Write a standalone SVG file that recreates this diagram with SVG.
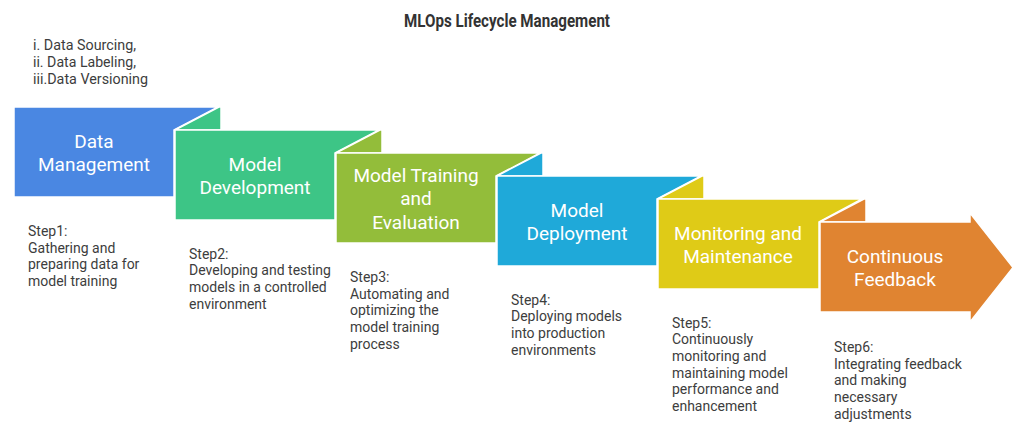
<svg xmlns="http://www.w3.org/2000/svg" width="1014" height="425" viewBox="0 0 1014 425">
<style>
.shp{stroke:#ffffff;stroke-width:1.5;stroke-linejoin:miter}
.lbl{font-family:Roboto,"Liberation Sans",sans-serif;font-size:19px;fill:#ffffff;text-anchor:middle}
.desc{font-family:Roboto,"Liberation Sans",sans-serif;font-size:14px;fill:#3d3d3d}
.title{font-family:Roboto,"Liberation Sans",sans-serif;font-size:17.5px;font-weight:bold;fill:#333333}
.c1{fill:#4A87E2}.c2{fill:#3DC586}.c3{fill:#93BD3A}.c4{fill:#1FA9D9}.c5{fill:#DFCB17}.c6{fill:#E08431}
</style>
<rect width="1014" height="425" fill="#ffffff"/>
<text class="title" x="404" y="27" textLength="206" lengthAdjust="spacingAndGlyphs">MLOps Lifecycle Management</text>
<g id="notes">
<text class="desc" x="33" y="50" textLength="103" lengthAdjust="spacingAndGlyphs">i. Data Sourcing,</text>
<text class="desc" x="33" y="67" textLength="103" lengthAdjust="spacingAndGlyphs">ii. Data Labeling,</text>
<text class="desc" x="33" y="84" textLength="115" lengthAdjust="spacingAndGlyphs">iii.Data Versioning</text>
</g>
<g id="connectors"></g>
<g id="step1">
<polygon class="shp c1" points="14,107 218,107 174,130 174,197 14,197"/>
<text class="lbl" x="94" y="147.5">Data</text>
<text class="lbl" x="94" y="171">Management</text>
<text class="desc" x="28" y="236"><tspan x="28">Step1:</tspan><tspan x="28" dy="16.7">Gathering and</tspan><tspan x="28" dy="16.7">preparing data for</tspan><tspan x="28" dy="16.7">model training</tspan></text>
</g>
<g id="step2">
<polygon class="shp c2" points="175,130 219,107 221,107 221,130"/>
<polygon class="shp c2" points="175,130 379,130 335,153 335,220 175,220"/>
<text class="lbl" x="255" y="170.5">Model</text>
<text class="lbl" x="255" y="194">Development</text>
<text class="desc" x="189" y="258.5"><tspan x="189">Step2:</tspan><tspan x="189" dy="16.7">Developing and testing</tspan><tspan x="189" dy="16.7">models in a controlled</tspan><tspan x="189" dy="16.7">environment</tspan></text>
</g>
<g id="step3">
<polygon class="shp c3" points="336,153 380,130 382,130 382,153"/>
<polygon class="shp c3" points="336,153 540,153 496,176 496,243 336,243"/>
<text class="lbl" x="416" y="181.5">Model Training</text>
<text class="lbl" x="416" y="205">and</text>
<text class="lbl" x="416" y="228.5">Evaluation</text>
<text class="desc" x="350" y="282"><tspan x="350">Step3:</tspan><tspan x="350" dy="16.7">Automating and</tspan><tspan x="350" dy="16.7">optimizing the</tspan><tspan x="350" dy="16.7">model training</tspan><tspan x="350" dy="16.7">process</tspan></text>
</g>
<g id="step4">
<polygon class="shp c4" points="497,176 541,153 543,153 543,176"/>
<polygon class="shp c4" points="497,176 701,176 657,199 657,266 497,266"/>
<text class="lbl" x="577" y="216.5">Model</text>
<text class="lbl" x="577" y="240">Deployment</text>
<text class="desc" x="511" y="304.5"><tspan x="511">Step4:</tspan><tspan x="511" dy="16.7">Deploying models</tspan><tspan x="511" dy="16.7">into production</tspan><tspan x="511" dy="16.7">environments</tspan></text>
</g>
<g id="step5">
<polygon class="shp c5" points="658,199 702,176 704,176 704,199"/>
<polygon class="shp c5" points="658,199 862,199 819,222 819,289 658,289"/>
<text class="lbl" x="738" y="239.5">Monitoring and</text>
<text class="lbl" x="738" y="263">Maintenance</text>
<text class="desc" x="672" y="327.5"><tspan x="672">Step5:</tspan><tspan x="672" dy="16.7">Continuously</tspan><tspan x="672" dy="16.7">monitoring and</tspan><tspan x="672" dy="16.7">maintaining model</tspan><tspan x="672" dy="16.7">performance and</tspan><tspan x="672" dy="16.7">enhancement</tspan></text>
</g>
<g id="step6">
<polygon class="shp c6" points="820,222 864,199 866,199 866,222"/>
<polygon class="shp c6" points="820,222 970,222 970,213 1013,267.5 970,322 970,312 820,312"/>
<text class="lbl" x="895" y="262.5">Continuous</text>
<text class="lbl" x="895" y="286">Feedback</text>
<text class="desc" x="834" y="352"><tspan x="834">Step6:</tspan><tspan x="834" dy="16.7">Integrating feedback</tspan><tspan x="834" dy="16.7">and making</tspan><tspan x="834" dy="16.7">necessary</tspan><tspan x="834" dy="16.7">adjustments</tspan></text>
</g>
</svg>
